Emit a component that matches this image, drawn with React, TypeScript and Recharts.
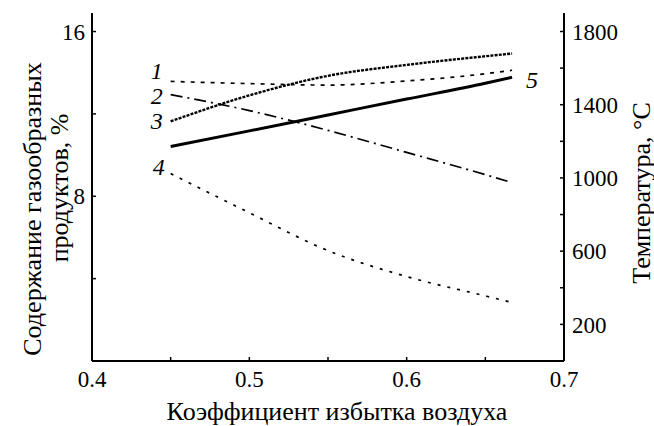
import { LineChart, Line, XAxis, YAxis } from "recharts";

// air excess coefficient
const alpha = [0.45, 0.5, 0.55, 0.6, 0.65, 0.667];
// gaseous products, %
const curve1 = [13.58, 13.47, 13.4, 13.6, 13.95, 14.12];
const curve2 = [12.94, 12.16, 11.2, 10.13, 9.05, 8.66];
const curve3 = [11.64, 12.9, 13.85, 14.38, 14.8, 14.93];
const curve4 = [9.1, 7.2, 5.36, 4.1, 3.16, 2.84];
// temperature, °C
const temp5 = [1172, 1257, 1344, 1431, 1517, 1550];

const xTicks = [0.4, 0.45, 0.5, 0.55, 0.6, 0.65, 0.7];
const xLabeled = [0.4, 0.5, 0.6, 0.7];
const leftTicks = [4, 8, 12, 16];
const leftLabeled = [8, 16];
const rightTicks = [200, 400, 600, 800, 1000, 1200, 1400, 1600, 1800];
const rightLabeled = [200, 600, 1000, 1400, 1800];

const data = alpha.map((a, i) => ({
  a,
  c1: curve1[i],
  c2: curve2[i],
  c3: curve3[i],
  c4: curve4[i],
  t5: temp5[i],
}));

const FONT = '"Liberation Serif", "Times New Roman", Times, "DejaVu Serif", serif';
const tickStyle = { fill: "#000", fontSize: 23, fontFamily: FONT };
const axisLine = { stroke: "#000", strokeWidth: 2 };
const tickLine = { stroke: "#000", strokeWidth: 1.5 };
const titleStyle = { fontFamily: FONT, fontSize: 26, fill: "#000" };

const curveLabel =
  (text: string, atEnd: boolean, dx: number, dy: number) =>
  (props: any) => {
    const { x, y, index } = props;
    const last = alpha.length - 1;
    if ((atEnd && index !== last) || (!atEnd && index !== 0)) return null;
    return (
      <text
        key={text}
        x={x + dx}
        y={y + dy}
        textAnchor={atEnd ? "start" : "end"}
        dominantBaseline="central"
        style={{ fontFamily: FONT, fontStyle: "italic", fontSize: 24, fill: "#000" }}
      >
        {text}
      </text>
    );
  };

const vText = (x: number, y: number, text: string) => (
  <text
    x={x}
    y={y}
    transform={`rotate(-90 ${x} ${y})`}
    textAnchor="middle"
    dominantBaseline="central"
    style={titleStyle}
  >
    {text}
  </text>
);

const xTitle = (props: any) => {
  const { viewBox } = props;
  const cx = viewBox.x + viewBox.width / 2 + 9;
  return (
    <text x={cx} y={420} textAnchor="middle" style={titleStyle}>
      Коэффициент избытка воздуха
    </text>
  );
};

const leftTitle = () => (
  <g>
    {vText(32, 209, "Содержание газообразных")}
    {vText(59, 188, "продуктов, %")}
  </g>
);

const rightTitle = () => vText(641, 193, "Температура, °C");

export default function App() {
  return (
    <div style={{ position: "absolute", left: 0, top: 0, width: 654, height: 426, background: "#fff", fontFamily: FONT }}>
      <LineChart width={654} height={426} data={data} margin={{ top: 13, right: 0, left: 0, bottom: 0 }}>
        <XAxis
          dataKey="a"
          type="number"
          domain={[0.4, 0.7]}
          ticks={xTicks}
          interval={0}
          height={65}
          tickSize={-4}
          tickMargin={14}
          tick={tickStyle}
          axisLine={axisLine}
          tickLine={tickLine}
          tickFormatter={(v: number) => (xLabeled.some((t) => Math.abs(t - v) < 1e-6) ? String(v) : "")}
          label={xTitle}
        />
        <YAxis
          yAxisId="left"
          orientation="left"
          domain={[0, 16.9]}
          ticks={leftTicks}
          interval={0}
          width={92}
          tickSize={-4}
          tickMargin={11}
          tick={tickStyle}
          axisLine={axisLine}
          tickLine={tickLine}
          tickFormatter={(v: number) => (leftLabeled.includes(v) ? String(v) : "")}
          label={leftTitle}
        />
        <YAxis
          yAxisId="right"
          orientation="right"
          domain={[0, 1901]}
          ticks={rightTicks}
          interval={0}
          width={90}
          tickSize={-4}
          tickMargin={12}
          tick={tickStyle}
          axisLine={axisLine}
          tickLine={tickLine}
          tickFormatter={(v: number) => (rightLabeled.includes(v) ? String(v) : "")}
          label={rightTitle}
        />
        <Line
          yAxisId="left"
          type="monotone"
          dataKey="c1"
          stroke="#000"
          strokeWidth={1.7}
          strokeDasharray="4 6"
          dot={false}
          isAnimationActive={false}
          label={curveLabel("1", false, -8, -10)}
        />
        <Line
          yAxisId="left"
          type="monotone"
          dataKey="c2"
          stroke="#000"
          strokeWidth={1.7}
          strokeDasharray="12 5 2 5"
          dot={false}
          isAnimationActive={false}
          label={curveLabel("2", false, -8, 1)}
        />
        <Line
          yAxisId="left"
          type="monotone"
          dataKey="c3"
          stroke="#000"
          strokeWidth={2.4}
          strokeDasharray="3 1.2"
          dot={false}
          isAnimationActive={false}
          label={curveLabel("3", false, -8, 0)}
        />
        <Line
          yAxisId="left"
          type="monotone"
          dataKey="c4"
          stroke="#000"
          strokeWidth={1.7}
          strokeDasharray="3 7"
          dot={false}
          isAnimationActive={false}
          label={curveLabel("4", false, -6, -7)}
        />
        <Line
          yAxisId="right"
          type="monotone"
          dataKey="t5"
          stroke="#000"
          strokeWidth={3}
          dot={false}
          isAnimationActive={false}
          label={curveLabel("5", true, 14, 3)}
        />
      </LineChart>
    </div>
  );
}
